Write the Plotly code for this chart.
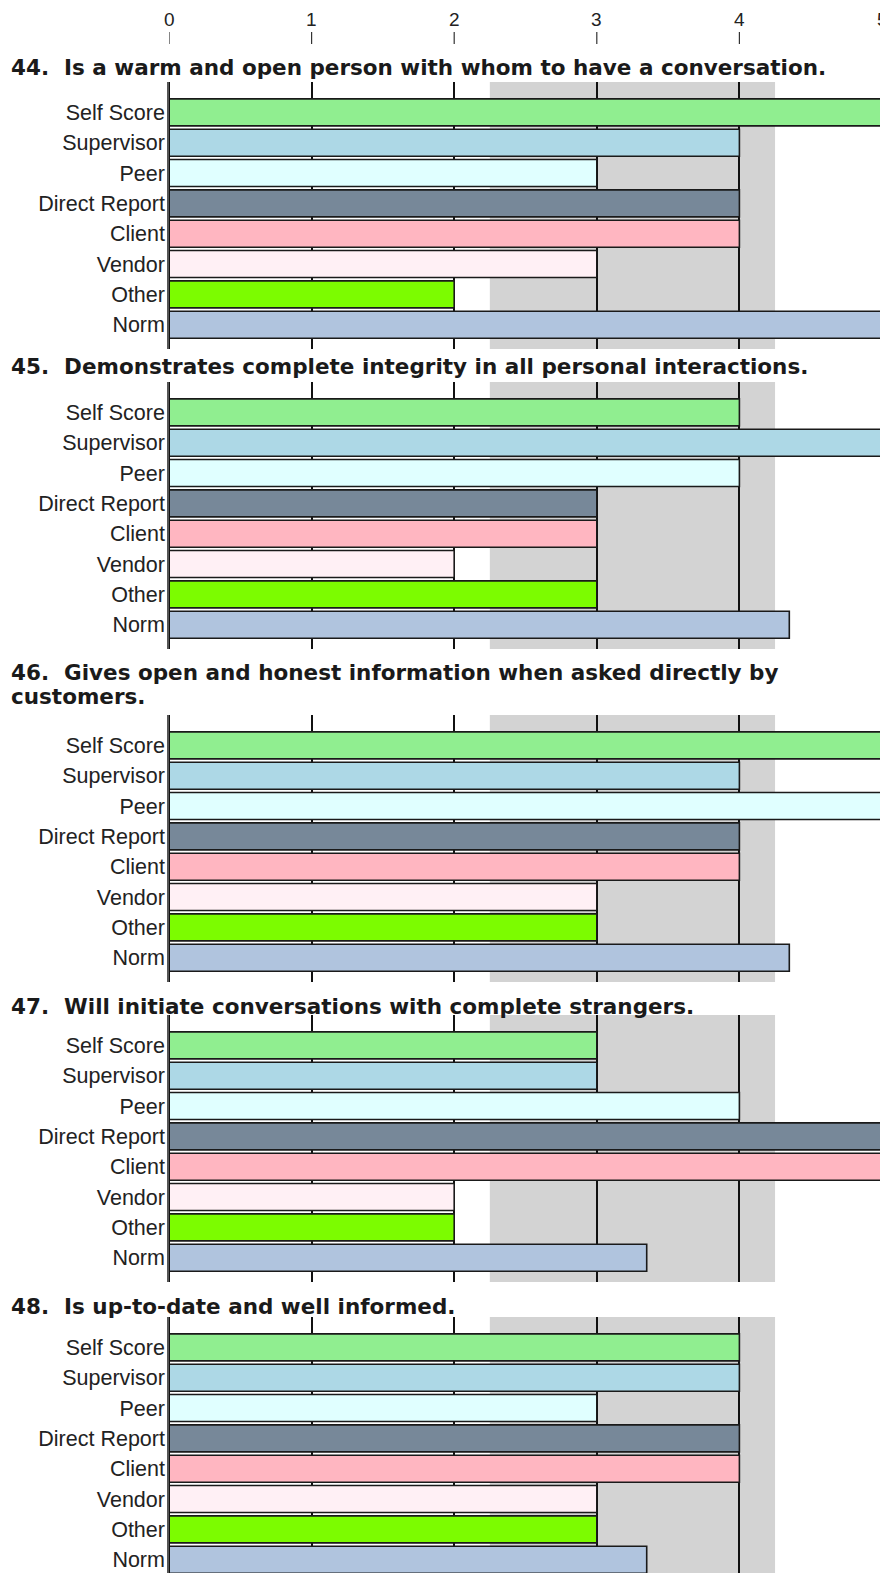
import plotly.graph_objects as go

# ---------------- data ----------------
raters = ["Self Score", "Supervisor", "Peer", "Direct Report", "Client", "Vendor", "Other", "Norm"]
rater_colors = ["#90EE90", "#ADD8E6", "#E0FFFF", "#778899", "#FFB6C1", "#FFF0F5", "#7CFC00", "#B0C4DE"]

questions = [
    ["44.  Is a warm and open person with whom to have a conversation."],
    ["45.  Demonstrates complete integrity in all personal interactions."],
    ["46.  Gives open and honest information when asked directly by", "customers."],
    ["47.  Will initiate conversations with complete strangers."],
    ["48.  Is up-to-date and well informed."],
]
q44 = [5, 4, 3, 4, 4, 3, 2, 5]
q45 = [4, 5, 4, 3, 3, 2, 3, 4.35]
q46 = [5, 4, 5, 4, 4, 3, 3, 4.35]
q47 = [3, 3, 4, 5, 5, 2, 2, 3.35]
q48 = [4, 4, 3, 4, 4, 3, 3, 3.35]
scores = [q44, q45, q46, q47, q48]

band_low, band_high = 2.25, 4.25
x_ticks = [0, 1, 2, 3, 4, 5]
x_min, x_max = 0, 5

# ---------------- layout geometry (page pixels) ----------------
PAGE_W, PAGE_H = 888, 1573
OFF = 8                      # default body margin of the html page
W, H = PAGE_W - OFF, PAGE_H - OFF
ML, MR = 169 - OFF, 6
PW = W - ML - MR
panel_tops = [82, 382, 715, 1015, 1317]
panel_h = 267
title_y = [[67], [366], [672, 696], [1006], [1306]]
unit_px = panel_h / 8.8
y_top = -1.0

def py(p):
    return 1 - (p - OFF) / H

def px(p):
    return (p - 169) / PW

fig = go.Figure()
layout = dict(
    width=W, height=H,
    margin=dict(l=ML, r=MR, t=0, b=0, autoexpand=False),
    paper_bgcolor="white", plot_bgcolor="white",
    showlegend=False, bargap=0.11,
    shapes=[], annotations=[],
)

for i, (q, vals) in enumerate(zip(questions, scores)):
    n = "" if i == 0 else str(i + 1)
    xa, ya = "x" + n, "y" + n
    top = panel_tops[i]
    bottom = min(top + panel_h, PAGE_H)
    y_bottom = y_top + (bottom - top) / unit_px
    fig.add_trace(go.Bar(
        x=vals, y=raters, orientation="h",
        marker=dict(color=rater_colors, line=dict(color="#1a1a1a", width=1.6)),
        xaxis=xa, yaxis=ya, hoverinfo="x+y",
    ))
    layout["xaxis" + n] = dict(
        domain=[0, 1], anchor=ya, range=[x_min, x_max],
        tickvals=x_ticks, showticklabels=False, ticks="",
        showgrid=True, gridcolor="#111111", gridwidth=1.5,
        zeroline=False, showline=False, fixedrange=True, automargin=False,
    )
    layout["yaxis" + n] = dict(
        domain=[max(py(bottom), 0), py(top)], anchor=xa,
        type="category", categoryarray=raters,
        range=[y_bottom, y_top],
        showgrid=False, zeroline=False, ticks="",
        showline=True, mirror=True, linecolor="#555555", linewidth=1.5,
        tickfont=dict(family="Liberation Sans, Arial, sans-serif", size=21.5, color="#222222"),
        ticklabelstandoff=-2, fixedrange=True, automargin=False,
    )
    # grey band (reference range)
    layout["shapes"].append(dict(
        type="rect", xref=xa, yref=ya + " domain",
        x0=band_low, x1=band_high, y0=0, y1=1,
        fillcolor="#D3D3D3", line=dict(width=0), layer="below",
    ))
    # black line at x = 0
    layout["shapes"].append(dict(
        type="line", xref=xa, yref=ya + " domain",
        x0=x_min, x1=x_min, y0=0, y1=1,
        line=dict(color="#111111", width=2), layer="above",
    ))
    for line_text, ty in zip(q, title_y[i]):
        layout["annotations"].append(dict(
            text="<b>" + line_text + "</b>", xref="paper", yref="paper",
            x=px(9), y=py(ty),
            xanchor="left", yanchor="middle", align="left", showarrow=False,
            font=dict(family="DejaVu Sans, Verdana, sans-serif", size=21.5, color="#1a1a1a"),
        ))

# top scale: tick labels and short tick marks
for t in x_ticks:
    layout["annotations"].append(dict(
        text=str(t), xref="x", yref="paper", x=t, y=py(19),
        xanchor="center", yanchor="middle", showarrow=False,
        font=dict(family="Liberation Sans Narrow, Liberation Sans, Arial, sans-serif", size=19, color="#222222"),
    ))
    layout["shapes"].append(dict(
        type="line", xref="x", yref="paper", x0=t, x1=t, y0=py(32), y1=py(44),
        line=dict(color="#333333", width=1.2),
    ))

fig.update_layout(**layout)
fig.write_html("out.html")
